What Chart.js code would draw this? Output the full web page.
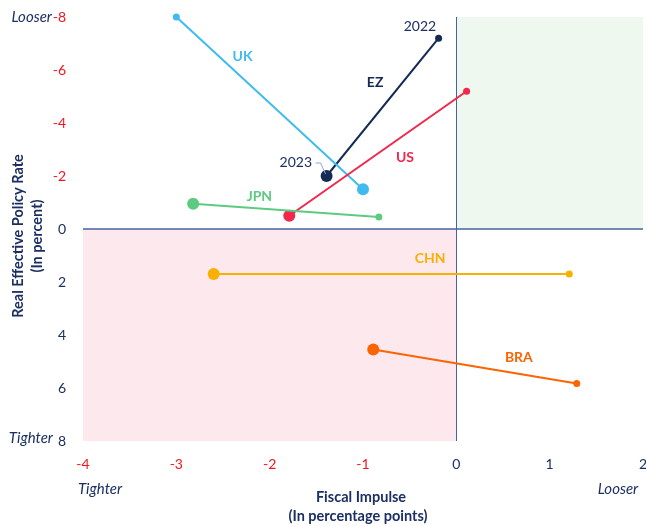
<!DOCTYPE html>
<html>
<head>
<meta charset="utf-8">
<script src="https://cdn.jsdelivr.net/npm/chart.js@4/dist/chart.umd.min.js"></script>
<style>
  html, body { margin: 0; padding: 0; background: #ffffff; }
  #wrap { width: 646px; height: 526px; }
</style>
</head>
<body>
<div id="wrap"><canvas id="chart" width="646" height="526"></canvas></div>
<script>
// Fiscal impulse (x, percentage points) and real effective policy rate (y, percent)
// for each economy: first value 2022, second value 2023.
const countries = ['JPN', 'US', 'UK', 'EZ', 'CHN', 'BRA'];
const impulse2022 = [-0.83, 0.11, -3.0, -0.19, 1.21, 1.29];
const rate2022    = [-0.45, -5.2, -8.0, -7.2, 1.7, 5.83];
const impulse2023 = [-2.82, -1.79, -1.0, -1.39, -2.6, -0.89];
const rate2023    = [-0.95, -0.5, -1.5, -2.0, 1.7, 4.55];

const xTicks = [-4, -3, -2, -1, 0, 1, 2];
const yTicks = [-8, -6, -4, -2, 0, 2, 4, 6, 8];

const seriesColors = {
  JPN: '#5ccb80', US: '#f2274b', UK: '#3fbbf0', EZ: '#142a55', CHN: '#f9b000', BRA: '#fa6402'
};
const navy = '#1b2f63';
const red = '#f5141e';
const FONT = 'Lato, "Open Sans", sans-serif';

// Where each country's name sits (data units).
const labelSpots = {
  UK: [-2.29, -6.5], EZ: [-0.87, -5.52], US: [-0.55, -2.69], JPN: [-2.11, -1.21],
  CHN: [-0.28, 1.1], BRA: [0.67, 4.84]
};

const datasets = countries.map((c, i) => ({
  label: c,
  data: [
    { x: impulse2022[i], y: rate2022[i] },
    { x: impulse2023[i], y: rate2023[i] }
  ],
  showLine: true,
  clip: false,
  borderColor: seriesColors[c],
  backgroundColor: seriesColors[c],
  borderWidth: 2,
  pointRadius: [3.5, 6],
  pointHoverRadius: [3.5, 6],
  pointBorderWidth: 0
}));

// Let the horizontal axis run out to the right edge (x = 2 sits at ~643px).
const widenPlot = {
  id: 'widenPlot',
  afterLayout(chart) {
    const x = chart.scales.x;
    const extra = 643 - x.right;
    if (extra > 0) {
      x.right += extra;
      x.width += extra;
      x.configure();
      chart.chartArea.right += extra;
      chart.chartArea.width = chart.chartArea.right - chart.chartArea.left;
    }
  }
};

// Quadrant shading and the zero cross-hairs, drawn beneath the series.
const quadrants = {
  id: 'quadrants',
  beforeDatasetsDraw(chart) {
    const { ctx, scales: { x, y } } = chart;
    ctx.save();
    ctx.fillStyle = '#fde8ed';
    ctx.fillRect(x.getPixelForValue(-4), y.getPixelForValue(0),
      x.getPixelForValue(0) - x.getPixelForValue(-4), y.getPixelForValue(8) - y.getPixelForValue(0));
    ctx.fillStyle = '#eef8ef';
    ctx.fillRect(x.getPixelForValue(0), y.getPixelForValue(-8),
      x.getPixelForValue(2) - x.getPixelForValue(0), y.getPixelForValue(0) - y.getPixelForValue(-8));
    ctx.strokeStyle = '#4563a0';
    ctx.lineWidth = 1.3;
    ctx.beginPath();
    ctx.moveTo(x.getPixelForValue(-4), y.getPixelForValue(0));
    ctx.lineTo(x.getPixelForValue(2), y.getPixelForValue(0));
    ctx.stroke();
    ctx.lineWidth = 1;
    ctx.beginPath();
    ctx.moveTo(Math.round(x.getPixelForValue(0)) + 0.5, y.getPixelForValue(-8));
    ctx.lineTo(Math.round(x.getPixelForValue(0)) + 0.5, y.getPixelForValue(8));
    ctx.stroke();
    ctx.restore();
  }
};

// Series names, year tags, axis titles and the looser/tighter markers.
const annotations = {
  id: 'annotations',
  afterDraw(chart) {
    const { ctx, scales: { x, y } } = chart;
    ctx.save();
    ctx.textAlign = 'center';
    ctx.textBaseline = 'middle';
    ctx.font = `bold 14px ${FONT}`;
    Object.keys(labelSpots).forEach(c => {
      ctx.fillStyle = seriesColors[c];
      ctx.fillText(c, x.getPixelForValue(labelSpots[c][0]), y.getPixelForValue(labelSpots[c][1]));
    });

    ctx.font = `14px ${FONT}`;
    ctx.fillStyle = navy;
    ctx.fillText('2022', x.getPixelForValue(-0.39), y.getPixelForValue(-7.64));
    ctx.fillText('2023', x.getPixelForValue(-1.72), y.getPixelForValue(-2.5));
    // leader from the 2023 tag to the euro-area point
    const i = countries.indexOf('EZ');
    const px = x.getPixelForValue(impulse2023[i]);
    const py = y.getPixelForValue(rate2023[i]);
    ctx.strokeStyle = '#8fa6cf';
    ctx.lineWidth = 1;
    ctx.beginPath();
    ctx.moveTo(px - 11, py - 13);
    ctx.lineTo(px - 6, py - 13);
    ctx.lineTo(px - 1, py - 2);
    ctx.stroke();

    // looser / tighter markers
    ctx.font = `italic 15px ${FONT}`;
    ctx.fillStyle = navy;
    ctx.textAlign = 'right';
    ctx.fillText('Looser', 52, y.getPixelForValue(-8));
    ctx.fillText('Tighter', 53, y.getPixelForValue(8) - 3);
    ctx.textAlign = 'center';
    ctx.fillText('Tighter', 100, 489);
    ctx.fillText('Looser', 618, 489);

    // axis titles
    ctx.font = `bold 14.5px ${FONT}`;
    ctx.fillText('Fiscal Impulse', 361, 497);
    ctx.fillText('(In percentage points)', 358, 516);
    ctx.save();
    ctx.translate(18, 236);
    ctx.rotate(-Math.PI / 2);
    ctx.fillText('Real Effective Policy Rate', 0, 0);
    ctx.fillText('(In percent)', 0, 19);
    ctx.restore();
    ctx.restore();
  }
};

function dropScalePadding(scale) {
  scale.paddingTop = 0;
  scale.paddingBottom = 0;
  scale.paddingLeft = 0;
  scale.paddingRight = 0;
}

new Chart(document.getElementById('chart'), {
  type: 'scatter',
  data: { datasets },
  options: {
    responsive: false,
    animation: false,
    layout: { padding: { top: 17, right: 2, left: 0, bottom: 0 } },
    plugins: { legend: { display: false }, tooltip: { enabled: false } },
    scales: {
      x: {
        type: 'linear', min: -4, max: 2,
        afterBuildTicks(scale) { scale.ticks = xTicks.map(v => ({ value: v })); },
        afterFit(scale) { scale.height = 526 - 441; dropScalePadding(scale); },
        grid: { display: false, drawTicks: false },
        border: { display: false },
        ticks: {
          padding: 15,
          font: { size: 14, family: FONT },
          color: ctx => (ctx.tick && ctx.tick.value < 0 ? red : navy)
        }
      },
      y: {
        type: 'linear', min: -8, max: 8, reverse: true,
        afterBuildTicks(scale) { scale.ticks = yTicks.map(v => ({ value: v })); },
        afterFit(scale) { scale.width = 83; dropScalePadding(scale); },
        grid: { display: false, drawTicks: false },
        border: { display: false },
        ticks: {
          padding: 17,
          font: { size: 14, family: FONT },
          color: ctx => (ctx.tick && ctx.tick.value < 0 ? red : navy)
        }
      }
    }
  },
  plugins: [widenPlot, quadrants, annotations]
});
</script>
</body>
</html>
